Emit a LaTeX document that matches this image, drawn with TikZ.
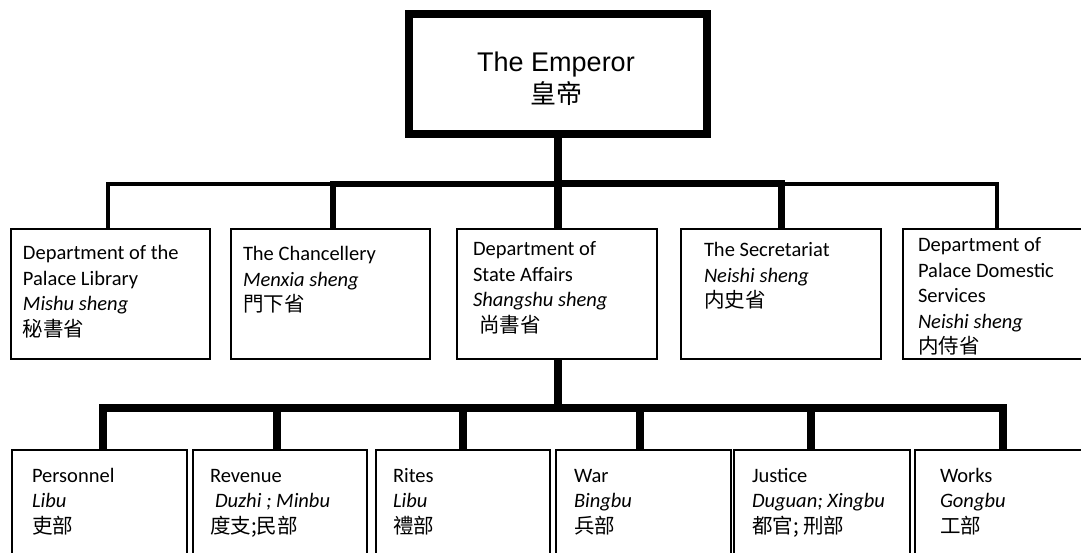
\documentclass[tikz,border=0pt]{standalone}
\usepackage{fontspec}
\setmainfont{Carlito}
\newfontfamily\arialf{Liberation Sans}
\newfontfamily\cjk{Noto Sans CJK TC}
\newcommand{\btext}[1]{\parbox[t]{190pt}{\fontsize{20.5}{25.5}\selectfont\raggedright #1}}
\begin{document}
\begin{tikzpicture}[x=1pt,y=-1pt,
  box/.style={draw=black, line width=1.2pt, rectangle, inner sep=0pt, outer sep=0pt},
  emperorbox/.style={draw=black, line width=8pt, rectangle, minimum width=298pt, minimum height=120pt, inner sep=0pt, outer sep=0pt},
  topbox/.style={box, minimum height=130pt},
  lowbox/.style={box, minimum width=175pt, minimum height=130pt},
  txt/.style={anchor=base west, inner sep=0pt, outer sep=0pt},
  conn/.style={draw=black, line join=miter},
]
\useasboundingbox (0,0) rectangle (1081,553);
\fill[white] (0,0) rectangle (1081,553);

% Emperor
\node[emperorbox] (emp) at (558,74) {};
\node[anchor=base, inner sep=0pt] (empt) at (556,72) {\parbox[t]{298pt}{\centering\fontsize{27}{32}\selectfont{\arialf The Emperor}\\{\cjk\fontsize{26}{32}\selectfont 皇帝}}};

% top-level departments
\node[topbox, minimum width=199pt] (d1) at (110.5,294) {};
\node[topbox, minimum width=199pt] (d2) at (330.5,294) {};
\node[topbox, minimum width=200pt] (d3) at (557,294) {};
\node[topbox, minimum width=200pt] (d4) at (781,294) {};
\node[topbox, minimum width=200pt] (d5) at (1003,294) {};

\node[txt] (d1t) at (23,260) {\btext{Department of the\\Palace Library\\\textit{Mishu sheng}\\{\cjk 秘書省}}};
\node[txt] (d2t) at (243,261) {\btext{The Chancellery\\\textit{Menxia sheng}\\{\cjk 門下省}}};
\node[txt] (d3t) at (473,256) {\btext{Department of\\State Affairs\\\textit{Shangshu sheng}\\\hspace*{6pt}{\cjk 尚書省}}};
\node[txt] (d4t) at (704,257) {\btext{The Secretariat\\\textit{Neishi sheng}\\{\cjk 内史省}}};
\node[txt] (d5t) at (918,252) {\btext{Department of\\Palace Domestic\\Services\\\textit{Neishi sheng}\\{\cjk 内侍省}}};

% ministries
\node[lowbox] (b1) at (99.5,515) {};
\node[lowbox, minimum width=174pt] (b2) at (280,515) {};
\node[lowbox, minimum width=174pt] (b3) at (463,515) {};
\node[lowbox] (b4) at (643.5,515) {};
\node[lowbox, minimum width=176pt] (b5) at (822,515) {};
\node[lowbox] (b6) at (1002.5,515) {};

\node[txt] (b1t) at (32,482) {\btext{Personnel\\\textit{Libu}\\{\cjk 吏部}}};
\node[txt] (b2t) at (210,482) {\btext{Revenue\\\hspace*{5pt}\textit{Duzhi ; Minbu}\\{\cjk 度支;民部}}};
\node[txt] (b3t) at (393,482) {\btext{Rites\\\textit{Libu}\\{\cjk 禮部}}};
\node[txt] (b4t) at (574,482) {\btext{War\\\textit{Bingbu}\\{\cjk 兵部}}};
\node[txt] (b5t) at (752,482) {\btext{Justice\\\textit{Duguan; Xingbu}\\{\cjk 都官; 刑部}}};
\node[txt] (b6t) at (940,482) {\btext{Works\\\textit{Gongbu}\\{\cjk 工部}}};

% connectors
\coordinate (tb) at (558,184);
\coordinate (bb) at (558,408);
\draw[conn, line width=8pt] (emp.south) -- (tb);
\draw[conn, line width=4pt] ([xshift=-2.5pt]d1.north) |- (tb);
\draw[conn, line width=6.5pt] ([xshift=2.5pt]d2.north) |- (tb);
\draw[conn, line width=7pt] (d4.north) |- (tb);
\draw[conn, line width=3.5pt] ([xshift=-6pt]d5.north) |- (tb);
\draw[conn, line width=8pt] (tb) -- ([xshift=1pt]d3.north);

\draw[conn, line width=8pt] ([xshift=1pt]d3.south) -- (bb);
\draw[conn, line width=7.5pt] ([xshift=3.5pt]b1.north) |- (bb);
\draw[conn, line width=7.5pt] ([xshift=-3pt]b2.north) |- (bb);
\draw[conn, line width=7.5pt] (b3.north) |- (bb);
\draw[conn, line width=7.5pt] ([xshift=-3.5pt]b4.north) |- (bb);
\draw[conn, line width=7.5pt] ([xshift=-11pt]b5.north) |- (bb);
\draw[conn, line width=7.5pt] ([xshift=0.5pt]b6.north) |- (bb);
\end{tikzpicture}
\end{document}
